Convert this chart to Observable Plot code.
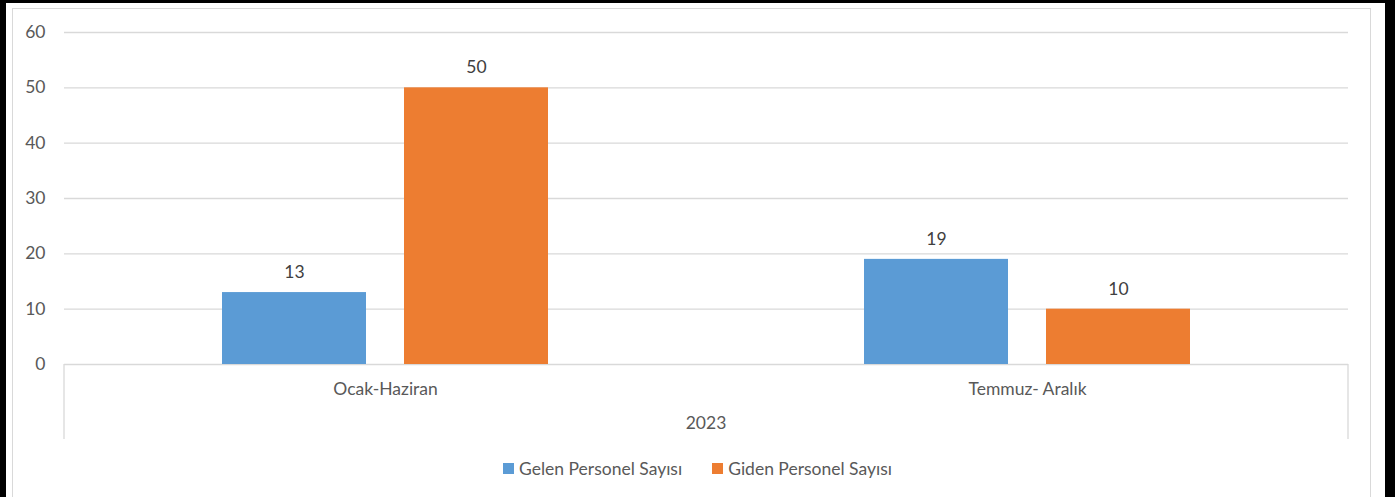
<!DOCTYPE html>
<html>
<head>
<meta charset="utf-8">
<script src="https://cdn.jsdelivr.net/npm/d3@7"></script>
<script src="https://cdn.jsdelivr.net/npm/@observablehq/plot@0.6"></script>
<style>
  html, body { margin: 0; padding: 0; background: #fff; }
  #wrap { position: relative; width: 1395px; height: 497px; overflow: hidden; font-family: Lato, "Open Sans", sans-serif; color: #595959; }
  .blk { position: absolute; background: #000; }
  #frame { position: absolute; left: 12px; top: 8px; width: 1359px; height: 500px; border: 1px solid #d9d9d9; box-sizing: border-box; }
  #chart { position: absolute; left: 0; top: 0; }
  #legend { position: absolute; left: 0; top: 458px; width: 1395px; display: flex; justify-content: center; gap: 30px; font-size: 17.5px; }
  .item { display: flex; align-items: center; gap: 5px; }
  .sw { width: 11px; height: 11px; display: inline-block; }
</style>
</head>
<body>
<div id="wrap">
  <div id="frame"></div>
  <div class="blk" style="left:0;top:0;width:1395px;height:3px"></div>
  <div class="blk" style="left:0;top:0;width:6px;height:497px"></div>
  <div class="blk" style="left:1385px;top:0;width:10px;height:497px"></div>
  <div id="chart"></div>
  <div id="legend"></div>
</div>
<script>
const periods = ["Ocak-Haziran", "Temmuz- Aralık"];
const groupLabel = "2023";
const seriesNames = ["Gelen Personel Sayısı", "Giden Personel Sayısı"];
const gelen = [13, 19];
const giden = [50, 10];
const colors = ["#5b9bd5", "#ed7d31"];
const yTicks = [0, 10, 20, 30, 40, 50, 60];

const data = [];
periods.forEach((p, i) => {
  data.push({period: p, series: seriesNames[0], value: gelen[i]});
  data.push({period: p, series: seriesNames[1], value: giden[i]});
});

const FS = 17.5;
const W = 1395, H = 445;
const plot = Plot.plot({
  width: W,
  height: H,
  marginTop: 32,
  marginLeft: 64,
  marginRight: 47,
  marginBottom: 81,
  style: {fontFamily: "Lato, 'Open Sans', sans-serif", fontSize: FS + "px", color: "#595959", background: "transparent"},
  fx: {domain: periods, padding: 0, label: null},
  x: {domain: seriesNames, paddingInner: 0.2088, paddingOuter: 0.868, axis: null},
  y: {domain: [0, 60], ticks: yTicks, label: null},
  color: {domain: seriesNames, range: colors},
  marks: [
    Plot.gridY(yTicks, {stroke: "#d9d9d9", strokeOpacity: 1, strokeWidth: 1.3}),
    Plot.axisY(yTicks, {tickSize: 0, tickPadding: 19, fontSize: FS, fill: "#595959", label: null}),
    Plot.axisFx({anchor: "bottom", tickSize: 0, tickPadding: 18, fontSize: FS, fill: "#595959", label: null}),
    Plot.barY(data, {fx: "period", x: "series", y: "value", fill: "series"}),
    Plot.text(data, {fx: "period", x: "series", y: "value", text: d => String(d.value), dy: -20, fontSize: FS, fill: "#404040"})
  ]
});
document.getElementById("chart").appendChild(plot);

// multi-level category axis decorations (from scales)
const svg = d3.select(plot);
const ys = plot.scale("y");
const y0 = ys.apply(0);
const left = 64, right = W - 47;
[left, right].forEach(x => {
  svg.append("line").attr("x1", x).attr("x2", x).attr("y1", y0).attr("y2", y0 + 75)
    .attr("stroke", "#d9d9d9").attr("stroke-width", 1.3);
});
svg.append("text").attr("x", (left + right) / 2).attr("y", y0 + 61)
  .attr("text-anchor", "middle").attr("dominant-baseline", "middle")
  .attr("font-size", FS).attr("fill", "#595959").attr("font-family", "Lato, 'Open Sans', sans-serif")
  .text(groupLabel);

const legend = document.getElementById("legend");
seriesNames.forEach((s, i) => {
  const it = document.createElement("div");
  it.className = "item";
  const sw = document.createElement("span");
  sw.className = "sw"; sw.style.background = colors[i];
  const t = document.createElement("span");
  t.textContent = s;
  it.appendChild(sw); it.appendChild(t);
  legend.appendChild(it);
});
</script>
</body>
</html>
